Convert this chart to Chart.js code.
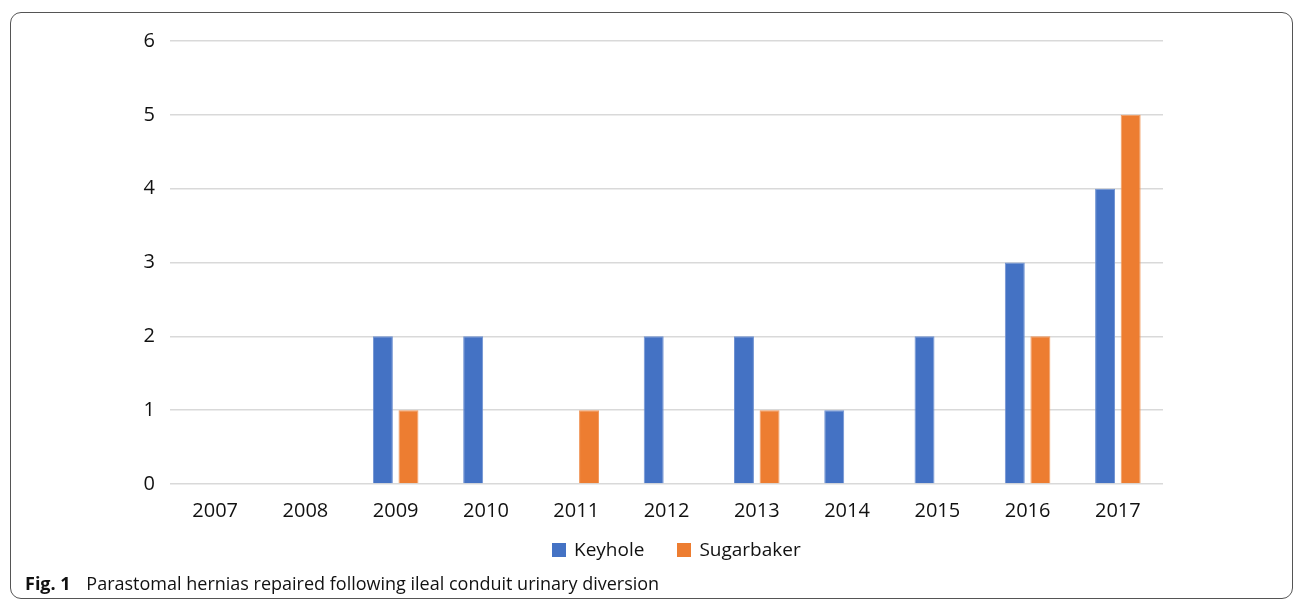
<!DOCTYPE html>
<html>
<head>
<meta charset="utf-8">
<script src="https://cdn.jsdelivr.net/npm/chart.js@4/dist/chart.umd.min.js"></script>
<style>
  body { margin: 0; background: #fff; font-family: "Open Sans", sans-serif; }
  #wrap { position: relative; width: 1296px; height: 603px; overflow: hidden; }
  #frame { position: absolute; left: 10px; top: 12px; width: 1283px; height: 587px;
           border: 1.5px solid #555; border-radius: 11px; box-sizing: border-box; }
  #chart { position: absolute; left: 0; top: 0; }
  #legend { position: absolute; left: 552px; top: 536px; font-size: 19px; color: #111; white-space: nowrap; }
  #legend span.item { display: inline-block; margin-right: 33px; }
  #legend span.box { display: inline-block; width: 14px; height: 14px; margin-right: 8px; vertical-align: -1px; }
  #caption { position: absolute; left: 25px; top: 573px; font-size: 18px; line-height: 20px; color: #111; white-space: nowrap; }
  #caption b { margin-right: 11px; }
</style>
</head>
<body>
<div id="wrap">
  <div id="frame"></div>
  <canvas id="chart" width="1296" height="603"></canvas>
  <div id="legend"></div>
  <div id="caption"><b>Fig. 1</b> Parastomal hernias repaired following ileal conduit urinary diversion</div>
</div>
<script>
var years = ["2007", "2008", "2009", "2010", "2011", "2012", "2013", "2014", "2015", "2016", "2017"];
var keyhole = [0, 0, 2, 2, 0, 2, 2, 1, 2, 3, 4];
var sugarbaker = [0, 0, 1, 0, 1, 0, 1, 0, 0, 2, 5];

var ctx = document.getElementById('chart').getContext('2d');

var chart = new Chart(ctx, {
    type: 'bar',
    data: {
        labels: years,
        datasets: [{
            label: "Keyhole",
            backgroundColor: '#4472C4',
            borderColor: '#6f92d2',
            borderWidth: 1,
            data: keyhole
        }, {
            label: "Sugarbaker",
            backgroundColor: '#ED7D31',
            borderColor: '#f29a5e',
            borderWidth: 1,
            data: sugarbaker
        }]
    },
    options: {
        responsive: false,
        animation: false,
        devicePixelRatio: 1,
        categoryPercentage: 0.567,
        barPercentage: 0.78,
        layout: { padding: { top: 41, right: 133, bottom: 0, left: 0 } },
        plugins: {
            legend: { display: false },
            tooltip: { enabled: false }
        },
        scales: {
            x: {
                grid: { display: false },
                border: { display: false },
                ticks: { color: '#111', font: { family: 'Open Sans', size: 20 }, padding: 7 },
                afterFit: function (scale) { scale.height = 119; }
            },
            y: {
                min: 0,
                max: 6,
                ticks: { stepSize: 1, color: '#111', font: { family: 'Open Sans', size: 20 }, padding: 15 },
                grid: { color: '#d9d9d9', lineWidth: 1.5, drawTicks: false },
                border: { display: false },
                afterFit: function (scale) { scale.width = 170; }
            }
        }
    }
});

// legend built from the datasets
var legendEl = document.getElementById('legend');
chart.data.datasets.forEach(function (ds) {
    legendEl.innerHTML += '<span class="item"><span class="box" style="background:' + ds.backgroundColor + '"></span>' + ds.label + '</span>';
});
</script>
</body>
</html>
